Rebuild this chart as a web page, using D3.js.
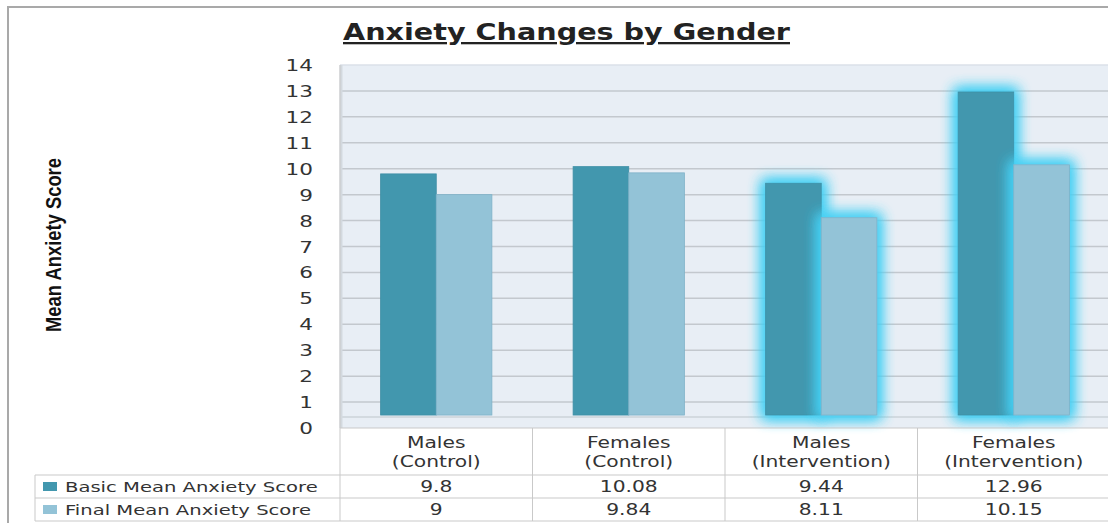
<!DOCTYPE html>
<html>
<head>
<meta charset="utf-8">
<script src="https://cdn.jsdelivr.net/npm/d3@7"></script>
<style>
  body { margin: 0; background: #fff; }
  svg { display: block; }
</style>
</head>
<body>
<div id="chartContainer"></div>
<script>
// chart data
var categories = ["Males (Control)", "Females (Control)", "Males (Intervention)", "Females (Intervention)"];
var seriesNames = ["Basic Mean Anxiety Score", "Final Mean Anxiety Score"];
var basicScores = [9.8, 10.08, 9.44, 12.96];
var finalScores = [9, 9.84, 8.11, 10.15];
var valueLabels = [["9.8", "10.08", "9.44", "12.96"], ["9", "9.84", "8.11", "10.15"]];
var glowGroups = ["Males (Intervention)", "Females (Intervention)"];
var yTicks = d3.range(0, 15);

var seriesColors = ["#4297ae", "#93c3d7"];
var textScale = 1.35; // the source picture is stretched sideways

window.onload = drawChart;

function drawChart(){
    var width = 1108,
        height = 523;

    var svg = d3.select("#chartContainer")
        .append("svg")
        .attr("width", width)
        .attr("height", height);

    var plotLeft = 340,
        plotRight = 1110,
        rowH = 23,
        tableTop = 428,
        headerBottom = 475,
        legendLeft = 35;

    //scales
    var y = d3.scaleLinear()
        .domain([0, 14])
        .range([tableTop, 65]);

    var x0 = d3.scaleBand()
        .domain(categories)
        .range([plotLeft, plotRight]);

    var x1 = d3.scaleBand()
        .domain(seriesNames)
        .range([0, x0.bandwidth()])
        .paddingOuter(0.73);

    setFilters(svg);
    setFrame(svg, width, height);
    setPlotArea(svg, y, plotLeft, plotRight);
    setBars(svg, x0, x1, y);
    setYAxis(svg, y);
    setTable(svg, x0, plotLeft, plotRight, tableTop, headerBottom, rowH, legendLeft);
    setTitles(svg);
};

function setFilters(svg){
    var defs = svg.append("defs");
    var glow = defs.append("filter")
        .attr("id", "glow")
        .attr("x", "-80%")
        .attr("y", "-30%")
        .attr("width", "260%")
        .attr("height", "160%");
    glow.append("feMorphology")
        .attr("in", "SourceAlpha")
        .attr("operator", "dilate")
        .attr("radius", 3)
        .attr("result", "fat");
    glow.append("feGaussianBlur")
        .attr("in", "fat")
        .attr("stdDeviation", 7)
        .attr("result", "blur");
    glow.append("feFlood")
        .attr("flood-color", "#45d0f4")
        .attr("flood-opacity", 1);
    glow.append("feComposite")
        .attr("in2", "blur")
        .attr("operator", "in")
        .attr("result", "halo");
    var merge = glow.append("feMerge");
    merge.append("feMergeNode").attr("in", "halo");
    merge.append("feMergeNode").attr("in", "halo");
    merge.append("feMergeNode").attr("in", "SourceGraphic");
};

function setFrame(svg, width, height){
    svg.append("path")
        .attr("d", "M8," + height + "V7H" + width)
        .attr("fill", "none")
        .attr("stroke", "#a9a9a9")
        .attr("stroke-width", 2);
};

function setPlotArea(svg, y, plotLeft, plotRight){
    // wall background
    svg.append("rect")
        .attr("x", plotLeft)
        .attr("y", y(14))
        .attr("width", plotRight - plotLeft)
        .attr("height", y(0) - y(14))
        .attr("fill", "#e8eef5");

    // gridlines
    svg.selectAll(".grid")
        .data(yTicks.filter(function(d){ return d > 0; }))
        .enter()
        .append("line")
        .attr("class", "grid")
        .attr("x1", plotLeft)
        .attr("x2", plotRight)
        .attr("y1", function(d){ return y(d); })
        .attr("y2", function(d){ return y(d); })
        .attr("stroke", function(d){ return d == 14 ? "#dbe1e8" : "#c3c8ce"; })
        .attr("stroke-width", 1.5);

    // floor edge where the bars stand
    svg.append("line")
        .attr("x1", plotLeft)
        .attr("x2", plotRight)
        .attr("y1", y(0.5) + 2)
        .attr("y2", y(0.5) + 2)
        .attr("stroke", "#cdd3d9")
        .attr("stroke-width", 1.5);

    // left wall edge
    svg.append("line")
        .attr("x1", plotLeft + 1)
        .attr("x2", plotLeft + 1)
        .attr("y1", y(14))
        .attr("y2", y(0))
        .attr("stroke", "#d3d9df")
        .attr("stroke-width", 3);
};

function setBars(svg, x0, x1, y){
    var rows = categories.map(function(c, i){
        return { cat: c, values: [basicScores[i], finalScores[i]] };
    });

    var groups = svg.selectAll(".barGroup")
        .data(rows)
        .enter()
        .append("g")
        .attr("class", "barGroup")
        .attr("transform", function(d){ return "translate(" + x0(d.cat) + ",0)"; });

    groups.selectAll("rect")
        .data(function(d){
            return d.values.map(function(v, j){
                return { cat: d.cat, name: seriesNames[j], value: v, idx: j };
            });
        })
        .enter()
        .append("rect")
        .attr("x", function(d){ return x1(d.name); })
        .attr("width", x1.bandwidth())
        .attr("y", function(d){ return y(d.value); })
        .attr("height", function(d){ return y(0.5) - y(d.value); })
        .attr("fill", function(d){ return seriesColors[d.idx]; })
        .attr("stroke", function(d){ return d.idx == 0 ? "#3d8ea5" : "#7fb2c8"; })
        .attr("stroke-width", 0.8)
        .attr("filter", function(d){
            return glowGroups.indexOf(d.cat) >= 0 ? "url(#glow)" : null;
        });
};

// text that is stretched sideways like the source picture
function addText(parent, px, py, str, anchor, size){
    return parent.append("text")
        .attr("transform", "translate(" + px + "," + py + ") scale(" + textScale + ",1)")
        .attr("text-anchor", anchor)
        .style("font-family", "'DejaVu Sans', sans-serif")
        .style("font-size", size + "px")
        .style("fill", "#333")
        .text(str);
};

function setYAxis(svg, y){
    yTicks.forEach(function(t){
        addText(svg, 313, y(t) + 6, t, "end", 16);
    });
};

function setTable(svg, x0, plotLeft, plotRight, tableTop, headerBottom, rowH, legendLeft){
    var lineColor = "#c9c9c9";
    var bottom = headerBottom + rowH * 2;

    // horizontal rules
    svg.append("line")
        .attr("x1", plotLeft).attr("x2", plotRight)
        .attr("y1", tableTop).attr("y2", tableTop)
        .attr("stroke", lineColor);
    [0, 1, 2].forEach(function(i){
        svg.append("line")
            .attr("x1", legendLeft).attr("x2", plotRight)
            .attr("y1", headerBottom + i * rowH).attr("y2", headerBottom + i * rowH)
            .attr("stroke", lineColor);
    });

    // vertical rules
    svg.append("line")
        .attr("x1", legendLeft).attr("x2", legendLeft)
        .attr("y1", headerBottom).attr("y2", bottom)
        .attr("stroke", lineColor);
    svg.append("line")
        .attr("x1", plotLeft).attr("x2", plotLeft)
        .attr("y1", 65).attr("y2", bottom)
        .attr("stroke", lineColor);
    categories.forEach(function(c, i){
        if (i == 0) return;
        svg.append("line")
            .attr("x1", x0(c)).attr("x2", x0(c))
            .attr("y1", tableTop).attr("y2", bottom)
            .attr("stroke", lineColor);
    });

    // category labels, two lines each
    categories.forEach(function(c){
        var cx = x0(c) + x0.bandwidth() / 2;
        var parts = c.split(" ");
        addText(svg, cx, 448, parts[0], "middle", 15);
        addText(svg, cx, 467, parts[1], "middle", 15);
    });

    // values and legend keys
    seriesNames.forEach(function(name, j){
        var rowY = headerBottom + j * rowH;
        svg.append("rect")
            .attr("x", 43)
            .attr("y", rowY + 7)
            .attr("width", 14)
            .attr("height", 9)
            .attr("fill", seriesColors[j]);
        addText(svg, 65, rowY + 17, name, "start", 14.5);
        categories.forEach(function(c, i){
            addText(svg, x0(c) + x0.bandwidth() / 2, rowY + 17, valueLabels[j][i], "middle", 15);
        });
    });
};

function setTitles(svg){
    svg.append("text")
        .attr("x", 343)
        .attr("y", 40)
        .attr("textLength", 447)
        .attr("lengthAdjust", "spacingAndGlyphs")
        .style("font-family", "'DejaVu Sans', sans-serif")
        .style("font-size", "23px")
        .style("font-weight", "bold")
        .style("text-decoration", "underline")
        .style("fill", "#222")
        .text("Anxiety Changes by Gender");

    svg.append("text")
        .attr("transform", "translate(61,245) rotate(-90)")
        .attr("x", -87)
        .attr("textLength", 174)
        .attr("lengthAdjust", "spacingAndGlyphs")
        .style("font-family", "'Liberation Sans Narrow', 'Liberation Sans', sans-serif")
        .style("font-size", "22px")
        .style("font-weight", "bold")
        .style("fill", "#111")
        .text("Mean Anxiety Score");
};
</script>
</body>
</html>
